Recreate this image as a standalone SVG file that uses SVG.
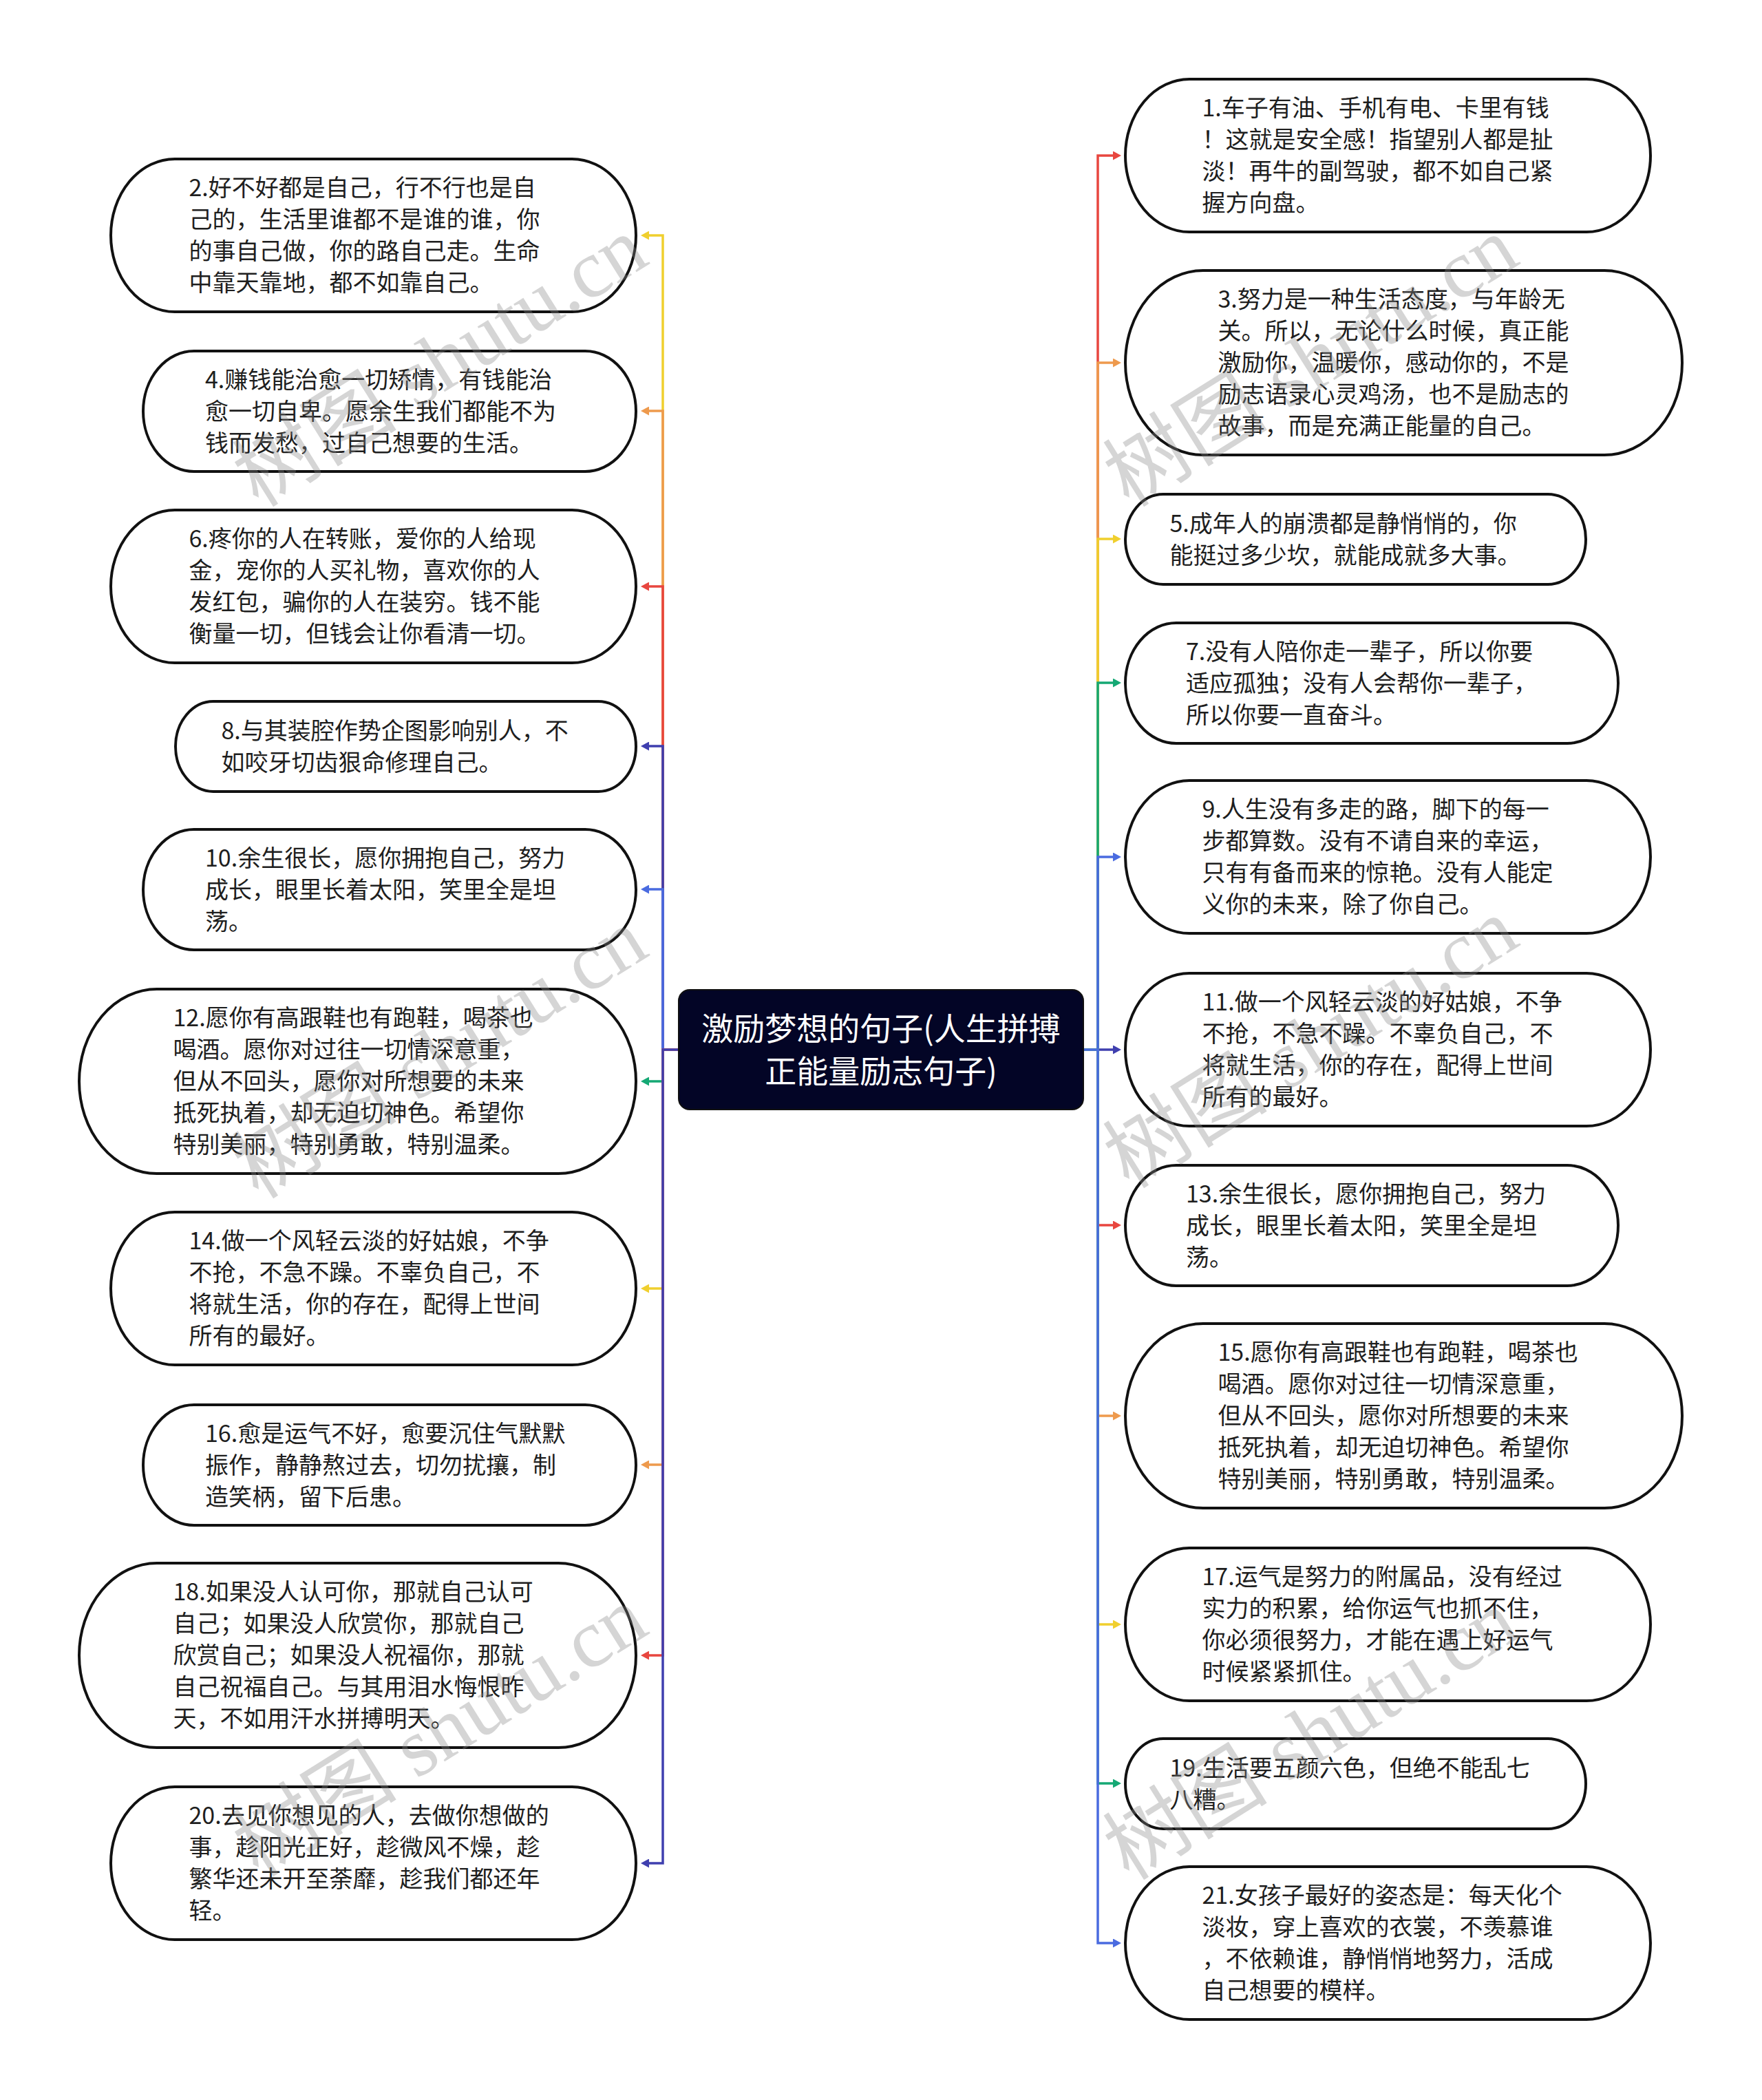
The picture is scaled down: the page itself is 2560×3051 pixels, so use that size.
<svg xmlns="http://www.w3.org/2000/svg" width="2560" height="3051" viewBox="0 0 2560 3051">
<style>
.nd{fill:#fff;stroke:#111;stroke-width:4}
.t{font-family:"Noto Sans CJK SC","Noto Sans",sans-serif;font-size:34px;fill:#1e1e1e}
.ct{font-family:"Noto Sans CJK SC","Noto Sans",sans-serif;font-size:46px;fill:#fff;text-anchor:middle}
.c{fill:none;stroke-width:3.5}
.wm{font-family:"Liberation Serif","Noto Sans CJK SC",serif;font-size:120px;fill:#888;opacity:0.35;text-anchor:middle}
</style>
<defs>
<marker id="mr" markerUnits="userSpaceOnUse" markerWidth="12" markerHeight="13" refX="0" refY="6.5" orient="auto"><path d="M0,0L12,6.5L0,13z" fill="#e8463f"/></marker>
<marker id="mo" markerUnits="userSpaceOnUse" markerWidth="12" markerHeight="13" refX="0" refY="6.5" orient="auto"><path d="M0,0L12,6.5L0,13z" fill="#ee9a4d"/></marker>
<marker id="my" markerUnits="userSpaceOnUse" markerWidth="12" markerHeight="13" refX="0" refY="6.5" orient="auto"><path d="M0,0L12,6.5L0,13z" fill="#f0cf2e"/></marker>
<marker id="mg" markerUnits="userSpaceOnUse" markerWidth="12" markerHeight="13" refX="0" refY="6.5" orient="auto"><path d="M0,0L12,6.5L0,13z" fill="#15a874"/></marker>
<marker id="mb" markerUnits="userSpaceOnUse" markerWidth="12" markerHeight="13" refX="0" refY="6.5" orient="auto"><path d="M0,0L12,6.5L0,13z" fill="#4a6be0"/></marker>
<marker id="mi" markerUnits="userSpaceOnUse" markerWidth="12" markerHeight="13" refX="0" refY="6.5" orient="auto"><path d="M0,0L12,6.5L0,13z" fill="#3f3faf"/></marker>
</defs>
<rect width="2560" height="3051" fill="#fff"/>
<g id="connectors">
<path class="c" stroke="#f0cf2e" marker-end="url(#my)" d="M986,1525H963V342H943"/>
<path class="c" stroke="#ee9a4d" marker-end="url(#mo)" d="M986,1525H963V597H943"/>
<path class="c" stroke="#e8463f" marker-end="url(#mr)" d="M986,1525H963V852H943"/>
<path class="c" stroke="#3f3faf" marker-end="url(#mi)" d="M986,1525H963V1084H943"/>
<path class="c" stroke="#4a6be0" marker-end="url(#mb)" d="M986,1525H963V1292H943"/>
<path class="c" stroke="#15a874" marker-end="url(#mg)" d="M986,1525H963V1571H943"/>
<path class="c" stroke="#f0cf2e" marker-end="url(#my)" d="M986,1525H963V1872H943"/>
<path class="c" stroke="#ee9a4d" marker-end="url(#mo)" d="M986,1525H963V2128H943"/>
<path class="c" stroke="#e8463f" marker-end="url(#mr)" d="M986,1525H963V2405H943"/>
<path class="c" stroke="#3f3faf" marker-end="url(#mi)" d="M986,1525H963V2707H943"/>
<path class="c" stroke="#3f3faf" marker-end="url(#mi)" d="M1574,1525H1617"/>
<path class="c" stroke="#e8463f" marker-end="url(#mr)" d="M1574,1525H1595V226H1617"/>
<path class="c" stroke="#ee9a4d" marker-end="url(#mo)" d="M1574,1525H1595V527H1617"/>
<path class="c" stroke="#f0cf2e" marker-end="url(#my)" d="M1574,1525H1595V783H1617"/>
<path class="c" stroke="#15a874" marker-end="url(#mg)" d="M1574,1525H1595V992H1617"/>
<path class="c" stroke="#4a6be0" marker-end="url(#mb)" d="M1574,1525H1595V1245H1617"/>
<path class="c" stroke="#e8463f" marker-end="url(#mr)" d="M1574,1525H1595V1780H1617"/>
<path class="c" stroke="#ee9a4d" marker-end="url(#mo)" d="M1574,1525H1595V2057H1617"/>
<path class="c" stroke="#f0cf2e" marker-end="url(#my)" d="M1574,1525H1595V2360H1617"/>
<path class="c" stroke="#15a874" marker-end="url(#mg)" d="M1574,1525H1595V2591H1617"/>
<path class="c" stroke="#4a6be0" marker-end="url(#mb)" d="M1574,1525H1595V2823H1617"/>
</g>
<g id="center">
<rect x="986" y="1438" width="588" height="174" rx="16" fill="#030526" stroke="#111" stroke-width="2"/>
<text class="ct" x="1280" y="1511">激励梦想的句子(人生拼搏</text>
<text class="ct" x="1280" y="1573">正能量励志句子)</text>
</g>
<g id="n2"><rect class="nd" x="161" y="231" width="763" height="222" rx="93" ry="111"/>
<text class="t" x="274.5" y="285"><tspan x="274.5" dy="0">2.好不好都是自己，行不行也是自</tspan><tspan x="274.5" dy="46">己的，生活里谁都不是谁的谁，你</tspan><tspan x="274.5" dy="46">的事自己做，你的路自己走。生命</tspan><tspan x="274.5" dy="46">中靠天靠地，都不如靠自己。</tspan></text></g>
<g id="n4"><rect class="nd" x="208" y="510" width="716" height="175" rx="74" ry="87.5"/>
<text class="t" x="298" y="563.5"><tspan x="298" dy="0">4.赚钱能治愈一切矫情，有钱能治</tspan><tspan x="298" dy="46">愈一切自卑。愿余生我们都能不为</tspan><tspan x="298" dy="46">钱而发愁，过自己想要的生活。</tspan></text></g>
<g id="n6"><rect class="nd" x="161" y="741" width="763" height="222" rx="93" ry="111"/>
<text class="t" x="274.5" y="795"><tspan x="274.5" dy="0">6.疼你的人在转账，爱你的人给现</tspan><tspan x="274.5" dy="46">金，宠你的人买礼物，喜欢你的人</tspan><tspan x="274.5" dy="46">发红包，骗你的人在装穷。钱不能</tspan><tspan x="274.5" dy="46">衡量一切，但钱会让你看清一切。</tspan></text></g>
<g id="n8"><rect class="nd" x="255" y="1019" width="669" height="131" rx="55" ry="65.5"/>
<text class="t" x="321.5" y="1073.5"><tspan x="321.5" dy="0">8.与其装腔作势企图影响别人，不</tspan><tspan x="321.5" dy="46">如咬牙切齿狠命修理自己。</tspan></text></g>
<g id="n10"><rect class="nd" x="208" y="1205" width="716" height="175" rx="74" ry="87.5"/>
<text class="t" x="298" y="1258.5"><tspan x="298" dy="0">10.余生很长，愿你拥抱自己，努力</tspan><tspan x="298" dy="46">成长，眼里长着太阳，笑里全是坦</tspan><tspan x="298" dy="46">荡。</tspan></text></g>
<g id="n12"><rect class="nd" x="115" y="1437" width="809" height="268" rx="113" ry="134"/>
<text class="t" x="251.5" y="1491"><tspan x="251.5" dy="0">12.愿你有高跟鞋也有跑鞋，喝茶也</tspan><tspan x="251.5" dy="46">喝酒。愿你对过往一切情深意重，</tspan><tspan x="251.5" dy="46">但从不回头，愿你对所想要的未来</tspan><tspan x="251.5" dy="46">抵死执着，却无迫切神色。希望你</tspan><tspan x="251.5" dy="46">特别美丽，特别勇敢，特别温柔。</tspan></text></g>
<g id="n14"><rect class="nd" x="161" y="1761" width="763" height="222" rx="93" ry="111"/>
<text class="t" x="274.5" y="1815"><tspan x="274.5" dy="0">14.做一个风轻云淡的好姑娘，不争</tspan><tspan x="274.5" dy="46">不抢，不急不躁。不辜负自己，不</tspan><tspan x="274.5" dy="46">将就生活，你的存在，配得上世间</tspan><tspan x="274.5" dy="46">所有的最好。</tspan></text></g>
<g id="n16"><rect class="nd" x="208" y="2041" width="716" height="175" rx="74" ry="87.5"/>
<text class="t" x="298" y="2094.5"><tspan x="298" dy="0">16.愈是运气不好，愈要沉住气默默</tspan><tspan x="298" dy="46">振作，静静熬过去，切勿扰攘，制</tspan><tspan x="298" dy="46">造笑柄，留下后患。</tspan></text></g>
<g id="n18"><rect class="nd" x="115" y="2271" width="809" height="268" rx="113" ry="134"/>
<text class="t" x="251.5" y="2325"><tspan x="251.5" dy="0">18.如果没人认可你，那就自己认可</tspan><tspan x="251.5" dy="46">自己；如果没人欣赏你，那就自己</tspan><tspan x="251.5" dy="46">欣赏自己；如果没人祝福你，那就</tspan><tspan x="251.5" dy="46">自己祝福自己。与其用泪水悔恨昨</tspan><tspan x="251.5" dy="46">天，不如用汗水拼搏明天。</tspan></text></g>
<g id="n20"><rect class="nd" x="161" y="2596" width="763" height="222" rx="93" ry="111"/>
<text class="t" x="274.5" y="2650"><tspan x="274.5" dy="0">20.去见你想见的人，去做你想做的</tspan><tspan x="274.5" dy="46">事，趁阳光正好，趁微风不燥，趁</tspan><tspan x="274.5" dy="46">繁华还未开至荼靡，趁我们都还年</tspan><tspan x="274.5" dy="46">轻。</tspan></text></g>
<g id="n1"><rect class="nd" x="1635" y="115" width="763" height="222" rx="93" ry="111"/>
<text class="t" x="1746.5" y="169"><tspan x="1746.5" dy="0">1.车子有油、手机有电、卡里有钱</tspan><tspan x="1746.5" dy="46">！这就是安全感！指望别人都是扯</tspan><tspan x="1746.5" dy="46">淡！再牛的副驾驶，都不如自己紧</tspan><tspan x="1746.5" dy="46">握方向盘。</tspan></text></g>
<g id="n3"><rect class="nd" x="1635" y="393" width="809" height="268" rx="113" ry="134"/>
<text class="t" x="1769.5" y="447"><tspan x="1769.5" dy="0">3.努力是一种生活态度，与年龄无</tspan><tspan x="1769.5" dy="46">关。所以，无论什么时候，真正能</tspan><tspan x="1769.5" dy="46">激励你，温暖你，感动你的，不是</tspan><tspan x="1769.5" dy="46">励志语录心灵鸡汤，也不是励志的</tspan><tspan x="1769.5" dy="46">故事，而是充满正能量的自己。</tspan></text></g>
<g id="n5"><rect class="nd" x="1635" y="718" width="669" height="131" rx="55" ry="65.5"/>
<text class="t" x="1699.5" y="772.5"><tspan x="1699.5" dy="0">5.成年人的崩溃都是静悄悄的，你</tspan><tspan x="1699.5" dy="46">能挺过多少坎，就能成就多大事。</tspan></text></g>
<g id="n7"><rect class="nd" x="1635" y="905" width="716" height="175" rx="74" ry="87.5"/>
<text class="t" x="1723" y="958.5"><tspan x="1723" dy="0">7.没有人陪你走一辈子，所以你要</tspan><tspan x="1723" dy="46">适应孤独；没有人会帮你一辈子，</tspan><tspan x="1723" dy="46">所以你要一直奋斗。</tspan></text></g>
<g id="n9"><rect class="nd" x="1635" y="1134" width="763" height="222" rx="93" ry="111"/>
<text class="t" x="1746.5" y="1188"><tspan x="1746.5" dy="0">9.人生没有多走的路，脚下的每一</tspan><tspan x="1746.5" dy="46">步都算数。没有不请自来的幸运，</tspan><tspan x="1746.5" dy="46">只有有备而来的惊艳。没有人能定</tspan><tspan x="1746.5" dy="46">义你的未来，除了你自己。</tspan></text></g>
<g id="n11"><rect class="nd" x="1635" y="1414" width="763" height="222" rx="93" ry="111"/>
<text class="t" x="1746.5" y="1468"><tspan x="1746.5" dy="0">11.做一个风轻云淡的好姑娘，不争</tspan><tspan x="1746.5" dy="46">不抢，不急不躁。不辜负自己，不</tspan><tspan x="1746.5" dy="46">将就生活，你的存在，配得上世间</tspan><tspan x="1746.5" dy="46">所有的最好。</tspan></text></g>
<g id="n13"><rect class="nd" x="1635" y="1693" width="716" height="175" rx="74" ry="87.5"/>
<text class="t" x="1723" y="1746.5"><tspan x="1723" dy="0">13.余生很长，愿你拥抱自己，努力</tspan><tspan x="1723" dy="46">成长，眼里长着太阳，笑里全是坦</tspan><tspan x="1723" dy="46">荡。</tspan></text></g>
<g id="n15"><rect class="nd" x="1635" y="1923" width="809" height="268" rx="113" ry="134"/>
<text class="t" x="1769.5" y="1977"><tspan x="1769.5" dy="0">15.愿你有高跟鞋也有跑鞋，喝茶也</tspan><tspan x="1769.5" dy="46">喝酒。愿你对过往一切情深意重，</tspan><tspan x="1769.5" dy="46">但从不回头，愿你对所想要的未来</tspan><tspan x="1769.5" dy="46">抵死执着，却无迫切神色。希望你</tspan><tspan x="1769.5" dy="46">特别美丽，特别勇敢，特别温柔。</tspan></text></g>
<g id="n17"><rect class="nd" x="1635" y="2249" width="763" height="222" rx="93" ry="111"/>
<text class="t" x="1746.5" y="2303"><tspan x="1746.5" dy="0">17.运气是努力的附属品，没有经过</tspan><tspan x="1746.5" dy="46">实力的积累，给你运气也抓不住，</tspan><tspan x="1746.5" dy="46">你必须很努力，才能在遇上好运气</tspan><tspan x="1746.5" dy="46">时候紧紧抓住。</tspan></text></g>
<g id="n19"><rect class="nd" x="1635" y="2526" width="669" height="131" rx="55" ry="65.5"/>
<text class="t" x="1699.5" y="2580.5"><tspan x="1699.5" dy="0">19.生活要五颜六色，但绝不能乱七</tspan><tspan x="1699.5" dy="46">八糟。</tspan></text></g>
<g id="n21"><rect class="nd" x="1635" y="2712" width="763" height="222" rx="93" ry="111"/>
<text class="t" x="1746.5" y="2766"><tspan x="1746.5" dy="0">21.女孩子最好的姿态是：每天化个</tspan><tspan x="1746.5" dy="46">淡妆，穿上喜欢的衣裳，不羡慕谁</tspan><tspan x="1746.5" dy="46">，不依赖谁，静悄悄地努力，活成</tspan><tspan x="1746.5" dy="46">自己想要的模样。</tspan></text></g>
<g id="watermarks">
<text class="wm" transform="translate(661,560) rotate(-32)">树图 shutu.cn</text>
<text class="wm" transform="translate(1926,560) rotate(-32)">树图 shutu.cn</text>
<text class="wm" transform="translate(661,1565) rotate(-32)">树图 shutu.cn</text>
<text class="wm" transform="translate(1926,1550) rotate(-32)">树图 shutu.cn</text>
<text class="wm" transform="translate(661,2550) rotate(-32)">树图 shutu.cn</text>
<text class="wm" transform="translate(1926,2555) rotate(-32)">树图 shutu.cn</text>
</g>
</svg>
